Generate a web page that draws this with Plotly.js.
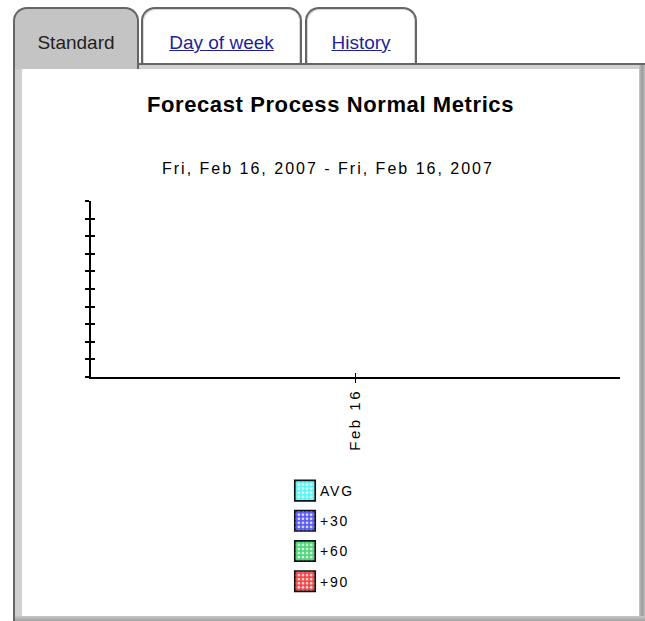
<!DOCTYPE html>
<html>
<head>
<meta charset="utf-8">
<script src="https://cdn.plot.ly/plotly-3.0.1.min.js"></script>
<style>
  html, body { margin: 0; padding: 0; background: #ffffff; width: 645px; height: 621px; overflow: hidden; font-family: "Liberation Sans", Arial, sans-serif; }
  .tab { position: absolute; top: 7px; box-sizing: border-box; border: 2px solid #666; border-bottom: none; border-radius: 14px 14px 0 0; text-align: center; font-size: 19px; line-height: 22px; padding-top: 23px; box-shadow: inset 1px 1px 0 #d8d8d8, inset -1px 0 0 #d8d8d8; }
  #t1 { left: 13px; width: 126px; height: 62px; background: #c4c4c4; color: #222; z-index: 3; box-shadow: none; }
  #t2 { left: 141px; width: 161px; height: 57px; background: #fff; z-index: 1; }
  #t3 { left: 305px; width: 112px; height: 57px; background: #fff; z-index: 1; }
  .tab a { color: #1f1f99; text-decoration: underline; }
  #panel { position: absolute; left: 13px; top: 63px; width: 632px; height: 558px; box-sizing: border-box; background: #d0d0d0; border-left: 2px solid #666; border-top: 2px solid #666; z-index: 2; }
  #rightedge { position: absolute; left: 639px; top: 65px; width: 6px; height: 556px; background: linear-gradient(to right, #c8c8c8, #9a9a9a, #c0c0c0); z-index: 2; }
  #bottomedge { position: absolute; left: 15px; top: 616px; width: 630px; height: 5px; background: linear-gradient(to bottom, #c8c8c8, #a0a0a0); z-index: 2; }
  #chart { position: absolute; left: 22px; top: 69px; width: 617px; height: 547px; background: #fff; z-index: 4; }
  .gtitle { letter-spacing: 0.6px; }
  .annotation-text { letter-spacing: 2px; }
  .legendtext { letter-spacing: 1.8px; }
  .xtick text { letter-spacing: 2.5px; }
</style>
</head>
<body>
<div class="tab" id="t1">Standard</div>
<div class="tab" id="t2"><a>Day of week</a></div>
<div class="tab" id="t3"><a>History</a></div>
<div id="panel"></div>
<div id="rightedge"></div>
<div id="bottomedge"></div>
<div id="chart"></div>
<script>
// ---- data ----
var chartTitle = "Forecast Process Normal Metrics";
var dateRange = "Fri, Feb 16, 2007 - Fri, Feb 16, 2007";
var categories = ["Feb 16"];
var seriesNames = ["AVG", "+30", "+60", "+90"];
var avgValues = [null];
var plus30Values = [null];
var plus60Values = [null];
var plus90Values = [null];
var seriesColors = ["#5cf4f4", "#5a5af0", "#4fd67a", "#f04848"];

var seriesValues = [avgValues, plus30Values, plus60Values, plus90Values];
var FONT = '"Liberation Sans", Arial, sans-serif';

var traces = seriesNames.map(function (name, i) {
  return {
    type: "bar",
    name: name,
    x: categories,
    y: seriesValues[i],
    legendgroup: "g" + i,
    marker: {
      color: seriesColors[i],
      line: { color: "#111", width: 1 },
      pattern: { shape: ".", bgcolor: seriesColors[i], fgcolor: "#ffffff", fgopacity: 0.8, size: 3, solidity: 0.35 }
    },
    hoverinfo: "skip"
  };
});
// companion trace for the crossing tick marks (inside half)
traces.push({
  type: "bar", x: categories, y: [null], xaxis: "x2", yaxis: "y2",
  showlegend: false, hoverinfo: "skip"
});

var layout = {
  width: 617, height: 547,
  paper_bgcolor: "#ffffff", plot_bgcolor: "#ffffff",
  margin: { l: 69, r: 19, t: 132, b: 239 },
  font: { family: FONT, color: "#000", size: 14 },
  title: {
    text: "<b>" + chartTitle + "</b>",
    font: { family: FONT, size: 22, color: "#000" },
    x: 0.5, xref: "container", xanchor: "center",
    y: 1 - 35 / 547, yref: "container", yanchor: "middle"
  },
  annotations: [{
    text: dateRange, xref: "paper", yref: "paper",
    x: 0.448, y: 1.1875, xanchor: "center", yanchor: "middle",
    showarrow: false, font: { family: FONT, size: 16, color: "#000" }
  }],
  showlegend: true,
  legend: {
    xref: "paper", yref: "container",
    x: (258 - 69) / 529, y: 1 - 406 / 547, xanchor: "left", yanchor: "top",
    orientation: "v", traceorder: "grouped", tracegroupgap: 9,
    itemwidth: 30, font: { family: FONT, size: 14, color: "#000" },
    bgcolor: "rgba(0,0,0,0)"
  },
  xaxis: {
    type: "category", categoryorder: "array", categoryarray: categories,
    range: [-0.5, 0.5],
    showline: true, linecolor: "#000", linewidth: 2,
    ticks: "outside", ticklen: 4, tickwidth: 1.5, tickcolor: "#000",
    tickangle: -90, tickfont: { family: FONT, size: 15, color: "#000" },
    showgrid: false, zeroline: false, fixedrange: true
  },
  yaxis: {
    range: [0, 10], dtick: 1, tick0: 0,
    showline: true, linecolor: "#000", linewidth: 2,
    ticks: "outside", ticklen: 4, tickwidth: 2, tickcolor: "#000",
    showticklabels: false, showgrid: false, zeroline: false, fixedrange: true
  },
  xaxis2: {
    overlaying: "x", anchor: "y2", type: "category", categoryorder: "array", categoryarray: categories,
    range: [-0.5, 0.5], side: "bottom",
    ticks: "inside", ticklen: 4, tickwidth: 1.5, tickcolor: "#000",
    showticklabels: false, showline: false, showgrid: false, zeroline: false, fixedrange: true
  },
  yaxis2: {
    overlaying: "y", anchor: "x2", side: "left", range: [0, 10], dtick: 1, tick0: 0,
    ticks: "inside", ticklen: 4, tickwidth: 2, tickcolor: "#000",
    showticklabels: false, showline: false, showgrid: false, zeroline: false, fixedrange: true
  },
  bargap: 0.2
};

Plotly.newPlot("chart", traces, layout, { displayModeBar: false, staticPlot: true }).then(function (gd) {
  // enlarge legend swatches to the reference's bigger squares
  gd.querySelectorAll(".legend .legendpoints path").forEach(function (p) {
    var t = p.getAttribute("transform") || "";
    p.setAttribute("transform", t + " translate(5,0) scale(1.7)");
  });
});
</script>
</body>
</html>
